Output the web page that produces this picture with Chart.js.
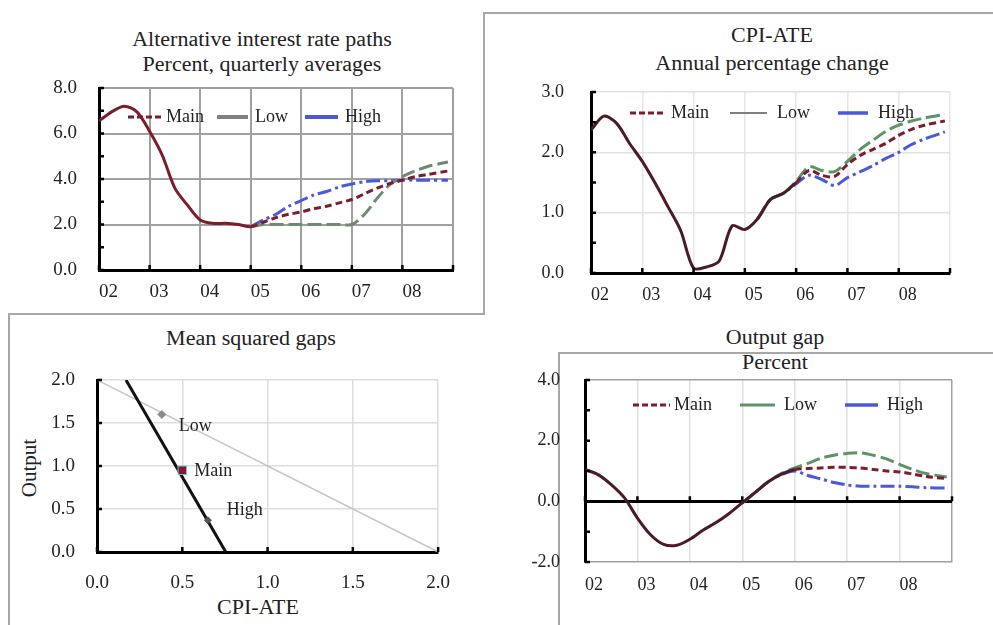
<!DOCTYPE html>
<html>
<head>
<meta charset="utf-8">
<script src="https://cdn.jsdelivr.net/npm/chart.js@4.4.1/dist/chart.umd.min.js"></script>
<style>
  body { margin: 0; background: #fff; width: 993px; height: 625px; position: relative; overflow: hidden;
         font-family: "Liberation Serif", "Times New Roman", serif; color: #222; }
  canvas { position: absolute; }
  .t { position: absolute; width: 400px; text-align: center; font-size: 20px; line-height: 24px;
       transform: scaleX(1.1); white-space: nowrap; }
  .box { position: absolute; border: 0 solid #a8a8a8; }
</style>
</head>
<body>
<div class="box" style="left:483px;top:12px;width:520px;height:301px;border-left-width:2px;border-top-width:2px;"></div>
<div class="box" style="left:8px;top:313px;width:475px;height:320px;border-left-width:2px;border-top-width:2px;"></div>
<div class="box" style="left:558px;top:352px;width:440px;height:280px;border-left-width:2px;border-top-width:2px;"></div>

<div class="t" style="left:62px;top:27px;">Alternative interest rate paths</div>
<div class="t" style="left:62px;top:52px;">Percent, quarterly averages</div>
<div class="t" style="left:572px;top:23px;">CPI-ATE</div>
<div class="t" style="left:572px;top:51px;">Annual percentage change</div>
<div class="t" style="left:51px;top:326px;">Mean squared gaps</div>
<div class="t" style="left:58px;top:595px;">CPI-ATE</div>
<div class="t" style="left:-171px;top:456px;transform:rotate(-90deg);font-size:21px;">Output</div>
<div class="t" style="left:575px;top:325px;">Output gap</div>
<div class="t" style="left:575px;top:350px;">Percent</div>

<canvas id="rates" width="475" height="259" style="left:0;top:53px;"></canvas>
<canvas id="cpi" width="490" height="260" style="left:480px;top:52px;"></canvas>
<canvas id="gaps" width="470" height="255" style="left:0;top:345px;"></canvas>
<canvas id="output" width="495" height="263" style="left:480px;top:342px;"></canvas>

<script>
// quarterly positions (last point sits just before the end of 2008)
const quarterPos = [2002.0, 2002.25, 2002.5, 2002.75, 2003.0, 2003.25, 2003.5, 2003.75,
  2004.0, 2004.25, 2004.5, 2004.75, 2005.0, 2005.25, 2005.5, 2005.75,
  2006.0, 2006.25, 2006.5, 2006.75, 2007.0, 2007.25, 2007.5, 2007.75,
  2008.0, 2008.25, 2008.5, 2008.9];
const yearLabels = ["02", "03", "04", "05", "06", "07", "08"];

// Alternative interest rate paths
const rateMain = [6.55, 6.95, 7.2, 6.95, 6.1, 5.05, 3.6, 2.85, 2.2, 2.05, 2.05, 2.0, 1.9, 2.1, 2.3, 2.45,
  2.55, 2.7, 2.8, 2.95, 3.1, 3.35, 3.6, 3.8, 3.95, 4.1, 4.2, 4.35];
const rateLow = [null, null, null, null, null, null, null, null, null, null, null, null,
  1.9, 2.0, 2.0, 2.0, 2.0, 2.0, 2.0, 2.0, 2.0, 2.45, 3.15, 3.75, 4.1, 4.35, 4.55, 4.75];
const rateHigh = [null, null, null, null, null, null, null, null, null, null, null, null,
  1.9, 2.2, 2.45, 2.8, 3.05, 3.3, 3.45, 3.65, 3.78, 3.88, 3.92, 3.92, 3.95, 3.95, 3.95, 3.95];

// CPI-ATE
const cpiMain = [2.37, 2.6, 2.48, 2.15, 1.85, 1.49, 1.1, 0.7, 0.08, 0.1, 0.2, 0.78, 0.72, 0.9, 1.22, 1.32,
  1.5, 1.7, 1.62, 1.6, 1.8, 1.95, 2.05, 2.15, 2.28, 2.38, 2.45, 2.52];
const cpiLow = [null, null, null, null, null, null, null, null, null, null, null, null, null,
  0.9, 1.22, 1.32, 1.52, 1.76, 1.7, 1.68, 1.85, 2.05, 2.2, 2.35, 2.45, 2.52, 2.57, 2.63];
const cpiHigh = [null, null, null, null, null, null, null, null, null, null, null, null, null,
  0.9, 1.22, 1.32, 1.48, 1.62, 1.55, 1.45, 1.58, 1.68, 1.78, 1.9, 2.0, 2.13, 2.22, 2.34];

// Output gap
const gapMain = [1.05, 0.88, 0.55, 0.12, -0.55, -1.1, -1.42, -1.45, -1.25, -0.95, -0.7, -0.4, -0.05, 0.3, 0.65, 0.9,
  1.05, 1.08, 1.1, 1.12, 1.12, 1.1, 1.05, 1.0, 0.97, 0.9, 0.82, 0.75];
const gapLow = [null, null, null, null, null, null, null, null, null, null, null, null,
  -0.05, 0.3, 0.65, 0.92, 1.1, 1.25, 1.42, 1.52, 1.58, 1.6, 1.52, 1.4, 1.22, 1.05, 0.92, 0.8];
const gapHigh = [null, null, null, null, null, null, null, null, null, null, null, null,
  -0.05, 0.3, 0.65, 0.88, 1.0, 0.85, 0.74, 0.62, 0.54, 0.5, 0.5, 0.5, 0.5, 0.48, 0.45, 0.44];

// Mean squared gaps
const msgLabels = ["Low", "Main", "High"];
const msgCpi = [0.38, 0.5, 0.65];
const msgOutput = [1.6, 0.95, 0.37];
const frontierCpi = [0.17, 0.755];
const frontierOutput = [2.0, 0.0];
const isoCpi = [0.0, 2.0];
const isoOutput = [2.0, 0.0];

const serif = "'Liberation Serif', 'Times New Roman', serif";
const MAROON = "#7c1d2e";
const DARK = "#4a1b25";
const BLUE = "#4a58dc";
const GREEN = "#5c9468";

function pairs(xs, ys) {
  return xs.map((x, i) => ({ x: x, y: ys[i] })).filter((p) => p.y !== null);
}

// small legend drawn inside the plot area
const lineKey = {
  id: "lineKey",
  afterDatasetsDraw(chart, args, opts) {
    if (!opts.items) return;
    const { ctx, chartArea } = chart;
    const y = chartArea.top + opts.y;
    ctx.save();
    ctx.font = opts.size + "px " + serif;
    ctx.textBaseline = "middle";
    ctx.fillStyle = "#222";
    opts.items.forEach((it) => {
      ctx.beginPath();
      ctx.strokeStyle = it.color;
      ctx.lineWidth = it.width;
      ctx.setLineDash(it.dash || []);
      ctx.moveTo(chartArea.left + it.x0, y);
      ctx.lineTo(chartArea.left + it.x1, y);
      ctx.stroke();
      ctx.setLineDash([]);
      ctx.fillText(it.text, chartArea.left + it.tx, y);
    });
    ctx.restore();
  },
};

// short inner tick marks on the axes
const axisMarks = {
  id: "axisMarks",
  afterDatasetsDraw(chart, args, opts) {
    if (!opts.len) return;
    const { ctx, chartArea, scales } = chart;
    const base = opts.xAt !== undefined ? scales.y.getPixelForValue(opts.xAt) : chartArea.bottom;
    ctx.save();
    ctx.strokeStyle = "#000";
    ctx.lineWidth = 2.5;
    ctx.beginPath();
    for (let v = scales.y.min; v <= scales.y.max + 1e-9; v += opts.yStep) {
      const py = scales.y.getPixelForValue(v);
      ctx.moveTo(chartArea.left, py);
      ctx.lineTo(chartArea.left + opts.len, py);
    }
    for (let v = scales.x.min; v <= scales.x.max + 1e-9; v += opts.xStep) {
      const px = scales.x.getPixelForValue(v);
      ctx.moveTo(px, base);
      ctx.lineTo(px, base - opts.len);
    }
    ctx.stroke();
    ctx.restore();
  },
};

// names next to the scatter points
const pointNames = {
  id: "pointNames",
  afterDatasetsDraw(chart, args, opts) {
    if (!opts.labels) return;
    const { ctx } = chart;
    const meta = chart.getDatasetMeta(0);
    ctx.save();
    ctx.font = opts.size + "px " + serif;
    ctx.textBaseline = "middle";
    ctx.fillStyle = "#222";
    meta.data.forEach((pt, i) => {
      ctx.fillText(opts.labels[i], pt.x + opts.dx[i], pt.y + opts.dy[i]);
    });
    ctx.restore();
  },
};

function timeChart(id, o) {
  return new Chart(document.getElementById(id), {
    type: "line",
    data: {
      datasets: [
        {
          label: "Main",
          data: pairs(quarterPos, o.main),
          borderColor: o.histColor,
          borderWidth: 3,
          segment: {
            borderDash: (c) => (c.p0.parsed.x >= o.split ? [7, 4] : undefined),
            borderColor: (c) => (c.p0.parsed.x >= o.split ? MAROON : o.histColor),
          },
        },
        { label: "Low", data: pairs(quarterPos, o.low), borderColor: o.lowColor, borderWidth: 3, borderDash: [14, 5] },
        { label: "High", data: pairs(quarterPos, o.high), borderColor: BLUE, borderWidth: 3, borderDash: [14, 4, 3, 4] },
      ],
    },
    options: {
      animation: false,
      responsive: false,
      layout: { padding: o.pad },
      elements: { point: { radius: 0 }, line: { tension: 0.3 } },
      plugins: { legend: { display: false }, tooltip: { enabled: false }, lineKey: o.key, axisMarks: o.marks },
      scales: {
        x: {
          type: "linear",
          min: 2002,
          max: 2009,
          afterFit: (s) => { s.height = o.xh; },
          ticks: {
            stepSize: 1,
            align: "start",
            padding: o.xpad,
            color: "#222",
            font: { family: serif, size: o.fs },
            callback: (v) => yearLabels[v - 2002] || "",
          },
          grid: { color: o.vgrid, lineWidth: o.gw, drawTicks: false },
          border: { color: o.xBorder, width: o.xBorderW },
        },
        y: {
          min: o.ymin,
          max: o.ymax,
          afterFit: (s) => { s.width = o.yw; },
          ticks: {
            stepSize: o.ystep,
            padding: o.ypad,
            color: "#222",
            font: { family: serif, size: o.fs },
            callback: (v) => v.toFixed(1),
          },
          grid: { color: o.hgrid, lineWidth: o.hgw || o.gw, drawTicks: false },
          border: { color: "#000", width: 3 },
        },
      },
    },
    plugins: [lineKey, axisMarks],
  });
}

timeChart("rates", {
  main: rateMain, low: rateLow, high: rateHigh, split: 2005, histColor: MAROON, lowColor: "#6f8a72",
  pad: { top: 35, right: 22, left: 0, bottom: 0 }, yw: 99, xh: 42, xpad: 11, ypad: 22, fs: 19,
  ymin: 0, ymax: 8, ystep: 2, vgrid: "#a0a0a0", hgrid: "#a0a0a0", gw: 2, xBorder: "#000", xBorderW: 3,
  marks: { len: 5, yStep: 1, xStep: 1 },
  key: {
    y: 29, size: 18,
    items: [
      { text: "Main", x0: 29, x1: 64, tx: 67, color: MAROON, width: 3, dash: [6, 3] },
      { text: "Low", x0: 118, x1: 149, tx: 156, color: "#808080", width: 4 },
      { text: "High", x0: 206, x1: 239, tx: 246, color: BLUE, width: 4 },
    ],
  },
});

timeChart("cpi", {
  main: cpiMain, low: cpiLow, high: cpiHigh, split: 2006, histColor: DARK, lowColor: GREEN,
  pad: { top: 40, right: 20, left: 0, bottom: 0 }, yw: 111, xh: 39, xpad: 11, ypad: 27, fs: 18,
  ymin: 0, ymax: 3, ystep: 1, vgrid: "#e6e6e6", hgrid: "#e2e2e2", gw: 1.5, xBorder: "#000", xBorderW: 3,
  marks: { len: 5, yStep: 0.5, xStep: 1 },
  key: {
    y: 21, size: 18,
    items: [
      { text: "Main", x0: 39, x1: 74, tx: 80, color: MAROON, width: 3, dash: [6, 3] },
      { text: "Low", x0: 139, x1: 176, tx: 186, color: "#555", width: 1.5 },
      { text: "High", x0: 247, x1: 277, tx: 287, color: BLUE, width: 3.5 },
    ],
  },
});

timeChart("output", {
  main: gapMain, low: gapLow, high: gapHigh, split: 2006, histColor: DARK, lowColor: GREEN,
  pad: { top: 38, right: 23, left: 0, bottom: 0 }, yw: 105, xh: 43, xpad: 12, ypad: 25, fs: 18,
  ymin: -2, ymax: 4, ystep: 2,
  vgrid: (c) => (c.tick.value === 2009 ? "#a0a0a0" : "#e0e0e0"),
  hgrid: (c) => (c.tick.value === 0 ? "#000" : c.tick.value === 4 ? "#a0a0a0" : "rgba(0,0,0,0)"),
  hgw: (c) => (c.tick.value === 0 ? 3 : 1.5),
  gw: 1.5, xBorder: "#a0a0a0", xBorderW: 1.5,
  marks: { len: 5, yStep: 1, xStep: 1, xAt: 0 },
  key: {
    y: 25, size: 18,
    items: [
      { text: "Main", x0: 48, x1: 85, tx: 89, color: MAROON, width: 3, dash: [6, 3] },
      { text: "Low", x0: 155, x1: 190, tx: 199, color: GREEN, width: 3 },
      { text: "High", x0: 260, x1: 293, tx: 302, color: BLUE, width: 3.5 },
    ],
  },
});

new Chart(document.getElementById("gaps"), {
  type: "scatter",
  data: {
    datasets: [
      {
        label: "Scenarios",
        data: pairs(msgCpi, msgOutput),
        pointStyle: ["rectRot", "rect", "rectRot"],
        pointRadius: [4, 6, 3.5],
        backgroundColor: ["#8a8a8a", "#8e1530", "#555"],
        borderColor: ["#8a8a8a", "#5fd0d0", "#555"],
        borderWidth: 1,
      },
      {
        label: "Frontier",
        data: pairs(frontierCpi, frontierOutput),
        showLine: true,
        borderColor: "#111",
        borderWidth: 3,
        pointRadius: 0,
      },
      {
        label: "Equal loss",
        data: pairs(isoCpi, isoOutput),
        showLine: true,
        borderColor: "#c4c4c4",
        borderWidth: 1.5,
        pointRadius: 0,
      },
    ],
  },
  options: {
    animation: false,
    responsive: false,
    layout: { padding: { top: 35, right: 23, left: 0, bottom: 0 } },
    plugins: {
      legend: { display: false },
      tooltip: { enabled: false },
      pointNames: { labels: msgLabels, dx: [17, 12, 19], dy: [12, 1, -10], size: 18 },
      axisMarks: { len: 5, yStep: 0.5, xStep: 0.5 },
    },
    scales: {
      x: {
        type: "linear",
        min: 0,
        max: 2,
        afterFit: (s) => { s.height = 48; },
        ticks: { stepSize: 0.5, padding: 20, color: "#222", font: { family: serif, size: 19 }, callback: (v) => v.toFixed(1) },
        grid: { color: "#dedede", lineWidth: 1.5, drawTicks: false },
        border: { color: "#000", width: 3 },
      },
      y: {
        min: 0,
        max: 2,
        afterFit: (s) => { s.width = 97; },
        ticks: { stepSize: 0.5, padding: 22, color: "#222", font: { family: serif, size: 19 }, callback: (v) => v.toFixed(1) },
        grid: { color: "#dedede", lineWidth: 1.5, drawTicks: false },
        border: { color: "#000", width: 3 },
      },
    },
  },
  plugins: [pointNames, axisMarks],
});
</script>
</body>
</html>
